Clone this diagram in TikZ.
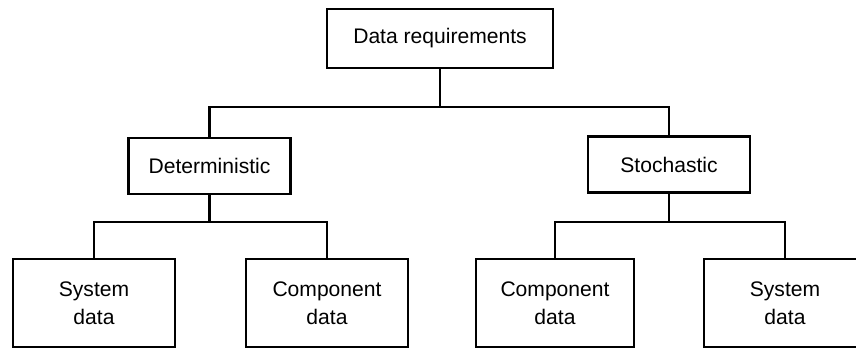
\documentclass[tikz,border=0pt]{standalone}
\usepackage{fontspec}
\setmainfont{Liberation Sans}
\usetikzlibrary{positioning}

\begin{document}
\begin{tikzpicture}[x=0.02cm,y=-0.02cm,
  box/.style={draw,line width=1.2pt,minimum width=3.24cm,minimum height=1.12cm,
    align=center,font=\fontsize{12}{16}\selectfont,inner sep=0pt},
  leaf/.style={box,minimum height=1.76cm},
  link/.style={line width=1.5pt}]
\useasboundingbox (0,0) rectangle (856,348);
\node[box,minimum width=4.52cm,minimum height=1.18cm] (req) at (440,38.5) {Data requirements};
\node[box] (det) at (209.5,166) {Deterministic};
\node[box] (sto) at (669,164.5) {Stochastic};
	\begin{scope}[every node/.style={leaf}]
	\node (dsys) at (94,303) {System\\data};
	\node (dcomp) at (327,303) {Component\\data};
	\node[minimum width=3.16cm] (scomp) at (555,303) {Component\\data};
	\node (ssys) at (785,303) {System\\data};
	\end{scope}
% branch bars
\draw[link] (req.south) -- (req.south |- 0,107) coordinate (j0);
\draw[link] (det.north) |- (j0) -| (sto.north);
\draw[link] (det.south) -- (det.south |- 0,222) coordinate (j1);
\draw[link] (dsys.north) |- (j1) -| (dcomp.north);
\draw[link] (sto.south) -- (sto.south |- 0,222) coordinate (j2);
\draw[link] (scomp.north) |- (j2) -| (ssys.north);
\end{tikzpicture}
\end{document}
